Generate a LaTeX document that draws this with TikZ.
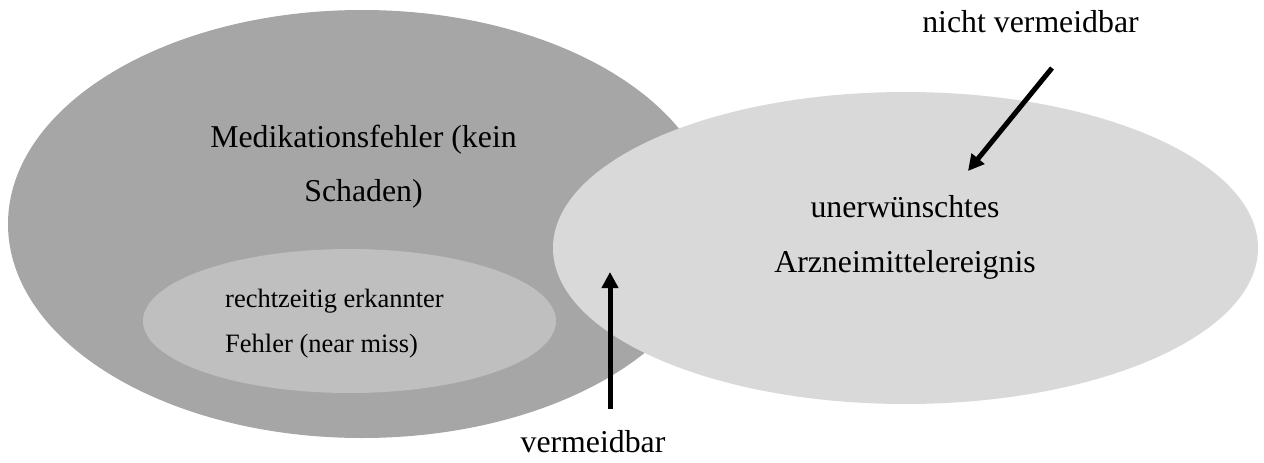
\documentclass[tikz,border=0pt]{standalone}
\usepackage{fontspec}
\setmainfont{Liberation Serif}
\usetikzlibrary{shapes.geometric,arrows.meta}
\definecolor{darkgray}{HTML}{A6A6A6}
\definecolor{midgray}{HTML}{BFBFBF}
\definecolor{lightgray}{HTML}{D9D9D9}
\tikzset{
  blob/.style={ellipse, inner sep=0pt, outer sep=0pt, draw=none},
  bigtext/.style={font=\fontsize{31.8}{38}\selectfont, inner sep=0pt, anchor=base},
  smalltext/.style={font=\fontsize{26.5}{32}\selectfont, inner sep=0pt, anchor=base west},
  arr/.style={line width=5pt, -{Triangle[length=16pt,width=16pt]}}
}
\begin{document}
\begin{tikzpicture}[x=1pt,y=-1pt]
\useasboundingbox (0,0) rectangle (1264,463);
% ellipses
\node[blob, fill=darkgray, minimum width=708pt, minimum height=428pt] (med) at (362,224) {};
\node[blob, fill=midgray, minimum width=413pt, minimum height=144pt] (near) at (349.5,321) {};
\node[blob, fill=lightgray, minimum width=705pt, minimum height=312pt] (uae) at (905.5,248) {};
% texts
\node[bigtext] (t1) at (363.5,147) {Medikationsfehler (kein};
\node[bigtext] (t2) at (363.5,201) {Schaden)};
\node[bigtext] (t3) at (905,217) {unerwünschtes};
\node[bigtext] (t4) at (905,272) {Arzneimittelereignis};
\node[smalltext] (t5) at (225,307) {rechtzeitig erkannter};
\node[smalltext] (t6) at (225,352) {Fehler (near miss)};
\node[bigtext] (lnv) at (1030.5,32) {nicht vermeidbar};
\node[bigtext] (lv) at (593,452) {vermeidbar};
% arrows
\coordinate (a1s) at (610,409);
\coordinate (a1e) at (610,272);
\coordinate (a2s) at (1052,68);
\coordinate (a2e) at (968,171);
\draw[arr] (a1s) -- (a1e);
\draw[arr] (a2s) -- (a2e);
\end{tikzpicture}
\end{document}
